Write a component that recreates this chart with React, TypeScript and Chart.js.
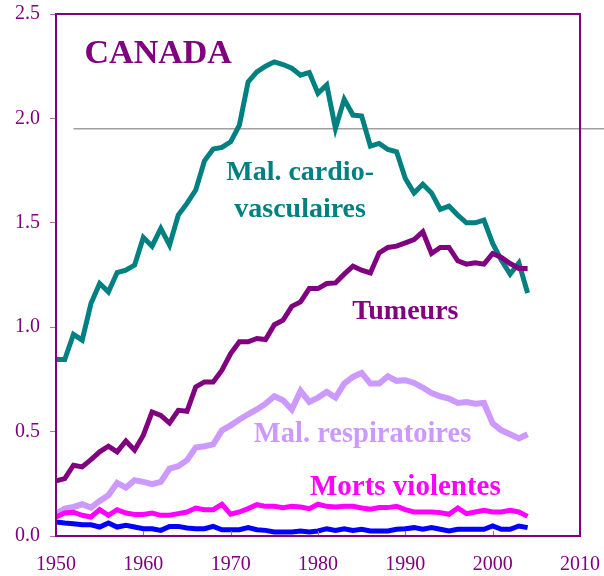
import React, { useEffect, useRef } from "react";
import { Chart, registerables } from "chart.js";

Chart.register(...registerables);

const years = [
  1950, 1951, 1952, 1953, 1954, 1955, 1956, 1957, 1958, 1959,
  1960, 1961, 1962, 1963, 1964, 1965, 1966, 1967, 1968, 1969,
  1970, 1971, 1972, 1973, 1974, 1975, 1976, 1977, 1978, 1979,
  1980, 1981, 1982, 1983, 1984, 1985, 1986, 1987, 1988, 1989,
  1990, 1991, 1992, 1993, 1994, 1995, 1996, 1997, 1998, 1999,
  2000, 2001, 2002, 2003, 2004,
];

const cardio = [
  0.845, 0.845, 0.966, 0.938, 1.113, 1.209, 1.169, 1.262, 1.273, 1.297,
  1.43, 1.388, 1.473, 1.393, 1.537, 1.593, 1.657, 1.797, 1.853, 1.861,
  1.888, 1.968, 2.175, 2.223, 2.25, 2.271, 2.258, 2.24, 2.207, 2.22,
  2.12, 2.16, 1.952, 2.091, 2.016, 2.011, 1.867, 1.88, 1.851, 1.84,
  1.712, 1.643, 1.685, 1.643, 1.564, 1.58, 1.537, 1.5, 1.5, 1.513,
  1.401, 1.321, 1.254, 1.308, 1.164,
];

const tumeurs = [
  0.264, 0.275, 0.339, 0.331, 0.366, 0.403, 0.43, 0.403, 0.455, 0.411,
  0.483, 0.594, 0.578, 0.541, 0.602, 0.597, 0.714, 0.738, 0.738, 0.794,
  0.874, 0.93, 0.93, 0.946, 0.941, 1.012, 1.034, 1.1, 1.121, 1.185,
  1.185, 1.209, 1.212, 1.254, 1.292, 1.273, 1.26, 1.356, 1.382, 1.388,
  1.404, 1.42, 1.457, 1.353, 1.382, 1.382, 1.318, 1.302, 1.308, 1.302,
  1.353, 1.334, 1.305, 1.281, 1.281,
];

const respiratoires = [
  0.107, 0.131, 0.139, 0.152, 0.136, 0.168, 0.195, 0.254, 0.232, 0.267,
  0.259, 0.248, 0.259, 0.323, 0.334, 0.363, 0.424, 0.43, 0.439, 0.506,
  0.53, 0.558, 0.583, 0.606, 0.634, 0.669, 0.65, 0.606, 0.695, 0.642,
  0.663, 0.69, 0.663, 0.73, 0.762, 0.781, 0.73, 0.73, 0.765, 0.743,
  0.746, 0.733, 0.711, 0.685, 0.669, 0.658, 0.637, 0.642, 0.634, 0.637,
  0.539, 0.506, 0.487, 0.467, 0.487,
];

const violentes = [
  0.091, 0.11, 0.114, 0.099, 0.091, 0.126, 0.099, 0.126, 0.11, 0.103,
  0.103, 0.11, 0.099, 0.099, 0.107, 0.115, 0.134, 0.126, 0.126, 0.152,
  0.104, 0.115, 0.131, 0.15, 0.142, 0.142, 0.136, 0.142, 0.139, 0.131,
  0.152, 0.142, 0.139, 0.142, 0.142, 0.134, 0.128, 0.136, 0.136, 0.142,
  0.126, 0.115, 0.115, 0.115, 0.112, 0.104, 0.134, 0.107, 0.115, 0.123,
  0.115, 0.115, 0.123, 0.115, 0.094,
];

const autres = [
  0.067, 0.062, 0.059, 0.054, 0.054, 0.043, 0.062, 0.043, 0.051, 0.043,
  0.035, 0.035, 0.027, 0.046, 0.046, 0.038, 0.035, 0.035, 0.046, 0.03,
  0.03, 0.03, 0.04, 0.03, 0.027, 0.019, 0.019, 0.019, 0.024, 0.019,
  0.024, 0.035, 0.027, 0.035, 0.027, 0.032, 0.024, 0.024, 0.024, 0.032,
  0.035, 0.04, 0.032, 0.04, 0.032, 0.024, 0.032, 0.032, 0.032, 0.032,
  0.048, 0.032, 0.032, 0.048, 0.04,
];

const xTicks = [1950, 1960, 1970, 1980, 1990, 2000, 2010];
const yTicks = [0, 0.5, 1.0, 1.5, 2.0, 2.5];

const refValue = 1.95;
const refStartYear = 1952;

const labelTexts = ["CANADA", "Mal. cardio-", "vasculaires", "Tumeurs", "Mal. respiratoires", "Morts violentes"];
const labelYears = [1961.7, 1977.95, 1977.95, 1990.0, 1985.1, 1990.0];
const labelValues = [2.266, 1.704, 1.527, 1.038, 0.45, 0.195];
const labelColors = ["#800080", "#008080", "#008080", "#800080", "#CC99FF", "#FF00FF"];
const labelSizes = [34, 28, 28, 28, 28.5, 29];

const SERIF = "'Times New Roman', 'Liberation Serif', serif";
const PURPLE = "#800080";

const toPoints = (vals: number[]) => vals.map((v, i) => ({ x: years[i], y: v }));

const decorPlugin = {
  id: "decor",
  beforeDatasetsDraw(chart: any) {
    const { ctx, scales } = chart;
    const xs = scales.x;
    const ys = scales.y;
    const y = ys.getPixelForValue(refValue);
    ctx.save();
    ctx.strokeStyle = "#A0A0A0";
    ctx.lineWidth = 1.5;
    ctx.beginPath();
    ctx.moveTo(xs.getPixelForValue(refStartYear), y);
    ctx.lineTo(chart.width, y);
    ctx.stroke();
    ctx.restore();
  },
  afterDatasetsDraw(chart: any) {
    const { ctx, scales, chartArea } = chart;
    const xs = scales.x;
    const ys = scales.y;
    ctx.save();
    ctx.strokeStyle = "#A070A0";
    ctx.lineWidth = 1;
    xTicks.forEach((t) => {
      const px = Math.round(xs.getPixelForValue(t)) + 0.5;
      ctx.beginPath();
      ctx.moveTo(px, chartArea.bottom);
      ctx.lineTo(px, chartArea.bottom - 5);
      ctx.stroke();
    });
    ctx.strokeStyle = PURPLE;
    ctx.lineWidth = 2;
    ctx.strokeRect(chartArea.left, chartArea.top, chartArea.right - chartArea.left, chartArea.bottom - chartArea.top);
    ctx.textAlign = "center";
    ctx.textBaseline = "alphabetic";
    labelTexts.forEach((txt, i) => {
      ctx.font = `bold ${labelSizes[i]}px ${SERIF}`;
      ctx.fillStyle = labelColors[i];
      ctx.fillText(txt, xs.getPixelForValue(labelYears[i]), ys.getPixelForValue(labelValues[i]));
    });
    ctx.restore();
  },
};

export default function App() {
  const ref = useRef<HTMLCanvasElement | null>(null);

  useEffect(() => {
    if (!ref.current) return;
    const mk = (label: string, data: number[], color: string, width: number) => ({
      label,
      data: toPoints(data),
      borderColor: color,
      backgroundColor: color,
      borderWidth: width,
      pointRadius: 0,
      tension: 0,
      fill: false,
    });
    const chart = new Chart(ref.current, {
      type: "line",
      data: {
        datasets: [
          mk("Autres", autres, "#0000FF", 5),
          mk("Morts violentes", violentes, "#FF00FF", 5),
          mk("Mal. respiratoires", respiratoires, "#CC99FF", 6),
          mk("Tumeurs", tumeurs, "#800080", 5),
          mk("Mal. cardio-vasculaires", cardio, "#008080", 5),
        ],
      },
      options: {
        animation: false,
        responsive: false,
        layout: { padding: { top: 14, right: 24, left: 0, bottom: 0 } },
        plugins: { legend: { display: false }, tooltip: { enabled: false } },
        scales: {
          x: {
            type: "linear",
            min: 1950,
            max: 2010,
            afterBuildTicks: (s: any) => {
              s.ticks = xTicks.map((v) => ({ value: v }));
            },
            afterFit: (s: any) => {
              s.height = 40;
              s.paddingLeft = 0;
              s.paddingRight = 0;
              s.paddingTop = 0;
              s.paddingBottom = 0;
            },
            ticks: {
              callback: (v: any) => String(v),
              color: PURPLE,
              font: { family: SERIF, size: 20 },
              padding: 17,
              maxRotation: 0,
              autoSkip: false,
            },
            grid: { drawOnChartArea: false, drawTicks: false, display: true, color: "rgba(0,0,0,0)" },
            border: { display: false },
          },
          y: {
            type: "linear",
            min: 0,
            max: 2.5,
            afterBuildTicks: (s: any) => {
              s.ticks = yTicks.map((v) => ({ value: v }));
            },
            afterFit: (s: any) => {
              s.width = 56;
              s.paddingLeft = 0;
              s.paddingRight = 0;
              s.paddingTop = 0;
              s.paddingBottom = 0;
            },
            ticks: {
              callback: (v: any) => Number(v).toFixed(1),
              color: PURPLE,
              font: { family: SERIF, size: 20 },
              padding: 10,
              autoSkip: false,
            },
            grid: { drawOnChartArea: false, drawTicks: true, tickLength: 6, color: "#B070B0" },
            border: { display: false },
          },
        },
      },
      plugins: [decorPlugin],
    } as any);
    return () => chart.destroy();
  }, []);

  return (
    <div style={{ position: "absolute", left: 0, top: 0, width: 604, height: 576, background: "#fff" }}>
      <canvas ref={ref} width={604} height={576} style={{ display: "block" }} />
    </div>
  );
}
